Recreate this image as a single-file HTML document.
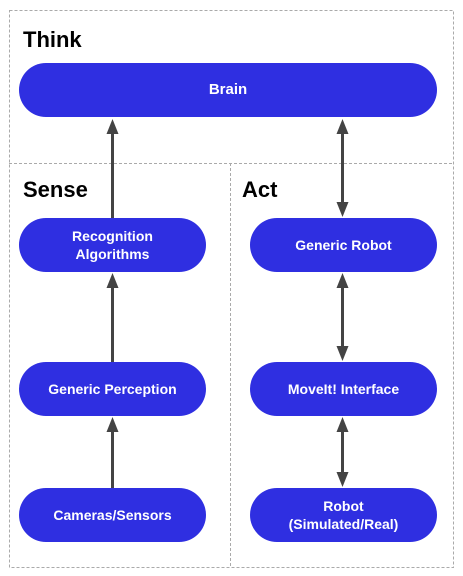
<!DOCTYPE html>
<html><head><style>
body{margin:0;background:#fff;width:463px;height:576px;overflow:hidden}
.n{position:absolute;background:#2f2fe1;border-radius:27px;color:#fff;font:bold 14px "Liberation Sans",sans-serif;display:flex;align-items:center;justify-content:center;text-align:center;line-height:18px}
.t{position:absolute;font:bold 22px "Liberation Sans",sans-serif;color:#000}
</style></head><body>
<svg width="463" height="576" style="position:absolute;left:0;top:0">
<g fill="none" stroke="#aaa" stroke-width="1" stroke-dasharray="3,2">
<rect x="9.5" y="10.5" width="444" height="557"/>
<line x1="9" y1="163.5" x2="454" y2="163.5"/>
<line x1="230.5" y1="163" x2="230.5" y2="568"/>
</g>
<g stroke="#444" stroke-width="3">
<line x1="112.5" y1="130" x2="112.5" y2="218"/>
<line x1="112.5" y1="285" x2="112.5" y2="362"/>
<line x1="112.5" y1="430" x2="112.5" y2="488"/>
<line x1="342.5" y1="130" x2="342.5" y2="205"/>
<line x1="342.5" y1="285" x2="342.5" y2="350"/>
<line x1="342.5" y1="428" x2="342.5" y2="476"/>
</g>
<g fill="#444">
<polygon points="112.5,119 106.5,134 118.5,134"/>
<polygon points="112.5,273 106.5,288 118.5,288"/>
<polygon points="112.5,417 106.5,432 118.5,432"/>
<polygon points="342.5,119 336.5,134 348.5,134"/>
<polygon points="342.5,217 336.5,202 348.5,202"/>
<polygon points="342.5,273 336.5,288 348.5,288"/>
<polygon points="342.5,361 336.5,346 348.5,346"/>
<polygon points="342.5,417 336.5,432 348.5,432"/>
<polygon points="342.5,487 336.5,472 348.5,472"/>
</g>
</svg>
<div class="t" style="left:23px;top:27px">Think</div>
<div class="t" style="left:23px;top:177px">Sense</div>
<div class="t" style="left:242px;top:177px">Act</div>
<div class="n" style="left:19px;top:63px;width:418px;height:54px;font-size:15px">Brain</div>
<div class="n" style="left:19px;top:218px;width:187px;height:54px">Recognition<br>Algorithms</div>
<div class="n" style="left:250px;top:218px;width:187px;height:54px">Generic Robot</div>
<div class="n" style="left:19px;top:362px;width:187px;height:54px">Generic Perception</div>
<div class="n" style="left:250px;top:362px;width:187px;height:54px">MoveIt! Interface</div>
<div class="n" style="left:19px;top:488px;width:187px;height:54px">Cameras/Sensors</div>
<div class="n" style="left:250px;top:488px;width:187px;height:54px">Robot<br>(Simulated/Real)</div>
</body></html>
